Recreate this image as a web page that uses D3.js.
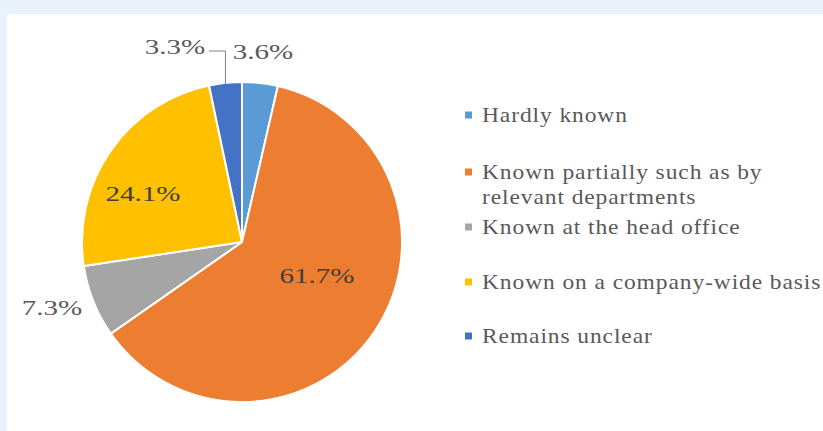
<!DOCTYPE html>
<html>
<head>
<meta charset="utf-8">
<script src="https://cdn.jsdelivr.net/npm/d3@7/dist/d3.min.js"></script>
<style>
  html, body { margin: 0; padding: 0; background: #e9f1fb; }
  svg { display: block; }
</style>
</head>
<body>
<svg id="chart" width="823" height="431"></svg>
<script>
// Awareness of the issue within the company (share of respondents, %)
const categories = [
  "Hardly known",
  "Known partially such as by relevant departments",
  "Known at the head office",
  "Known on a company-wide basis",
  "Remains unclear"
];
const values = [3.6, 61.7, 7.3, 24.1, 3.3];
const valueLabels = ["3.6%", "61.7%", "7.3%", "24.1%", "3.3%"];
const legendLines = [
  ["Hardly known"],
  ["Known partially such as by", "relevant departments"],
  ["Known at the head office"],
  ["Known on a company-wide basis"],
  ["Remains unclear"]
];
const colors = ["#5b9bd5", "#ed7d31", "#a5a5a5", "#ffc000", "#4472c4"];

const W = 823, H = 431;
const FONT = "'Liberation Serif', 'Times New Roman', serif";
const svg = d3.select("#chart");

// white panel on the light blue page
svg.append("rect").attr("x", 7).attr("y", 14).attr("width", W - 7).attr("height", H - 14)
  .attr("fill", "#ffffff");

const cx = 242, cy = 242, R = 160;
const g = svg.append("g").attr("transform", `translate(${cx},${cy})`);

const pie = d3.pie().sort(null).value(d => d);
const arcs = pie(values);
const arc = d3.arc().innerRadius(0).outerRadius(R);

g.selectAll("path.slice").data(arcs).join("path")
  .attr("class", "slice")
  .attr("d", arc)
  .attr("fill", (d, i) => colors[i])
  .attr("stroke", "#ffffff")
  .attr("stroke-width", 2)
  .attr("stroke-linejoin", "round");

// label placement (relative to pie centre)
const labelPos = [
  [21, -190],   // 3.6%
  [75, 34],     // 61.7%
  [-190, 66],   // 7.3%
  [-99, -48],   // 24.1%
  [-67, -195]   // 3.3%
];
const inside = [false, true, false, true, false];

g.selectAll("text.val").data(arcs).join("text")
  .attr("class", "val")
  .attr("transform", (d, i) => `translate(${labelPos[i][0]},${labelPos[i][1]}) scale(1.32,1)`)
  .attr("text-anchor", "middle")
  .attr("dominant-baseline", "central")
  .attr("font-family", FONT)
  .attr("font-size", 22)
  .attr("fill", (d, i) => inside[i] ? "#3f3f3f" : "#595959")
  .text((d, i) => valueLabels[i]);

// leader line for the small "Remains unclear" slice
{
  const d = arcs[4];
  const mid = (d.startAngle + d.endAngle) / 2;
  const ex = R * Math.sin(mid), ey = -R * Math.cos(mid);
  const lx = labelPos[4][0] + 34, ly = labelPos[4][1] + 4;
  g.append("path")
    .attr("d", `M${lx},${ly}H${ex}V${ey + 1}`)
    .attr("fill", "none")
    .attr("stroke", "#7f7f7f")
    .attr("stroke-width", 1);
}

// legend
const legendX = 465;
const rowY = [115, 172, 227, 282, 336];
const lineH = 25;
const leg = svg.append("g");
categories.forEach((c, i) => {
  leg.append("rect")
    .attr("x", legendX).attr("y", rowY[i] - 3.5)
    .attr("width", 7).attr("height", 7)
    .attr("fill", colors[i]);
  legendLines[i].forEach((t, j) => {
    leg.append("text")
      .attr("transform", `translate(${legendX + 17},${rowY[i] + j * lineH}) scale(1.12,1)`)
      .attr("dominant-baseline", "central")
      .attr("font-family", FONT)
      .attr("font-size", 21)
      .attr("letter-spacing", 0.8)
      .attr("fill", "#595959")
      .text(t);
  });
});
</script>
</body>
</html>
